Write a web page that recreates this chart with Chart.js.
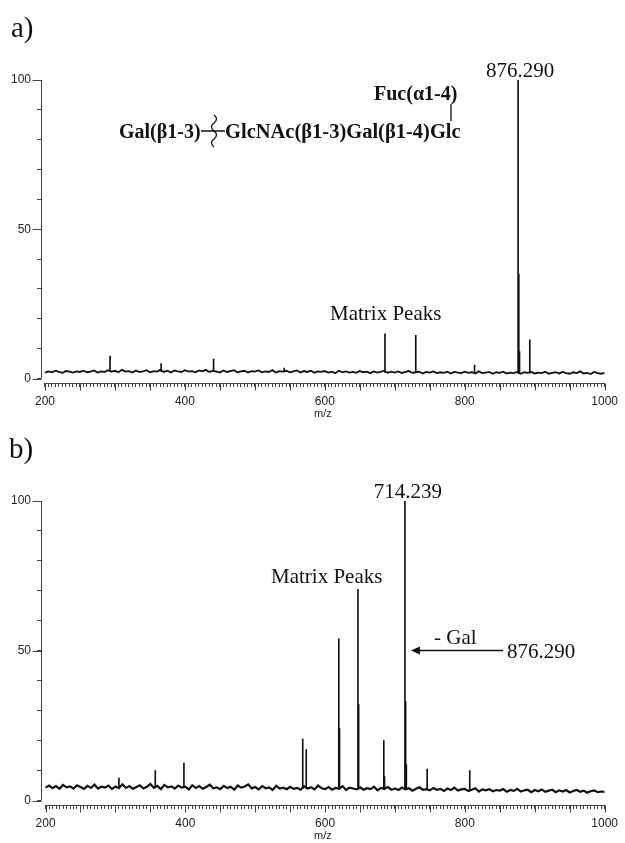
<!DOCTYPE html>
<html>
<head>
<meta charset="utf-8">
<script src="https://cdn.jsdelivr.net/npm/chart.js@4.4.1/dist/chart.umd.min.js"></script>
<style>
  body { margin: 0; background: #fff; }
  canvas { display: block; }
</style>
</head>
<body>
<canvas id="specA" width="625" height="421"></canvas>
<canvas id="specB" width="625" height="422"></canvas>
<script>
// x grid of the noise trace, one reading every 5 m/z
const noiseMz = [];
for (let m = 200; m <= 1000; m += 5) noiseMz.push(m);

// baseline noise, % relative intensity
const noiseA = [
  2.0, 2.4, 2.1, 2.6, 2.2, 1.9, 2.5, 2.3, 2.0, 2.4,
  2.2, 2.6, 2.1, 2.3, 2.7, 2.0, 2.4, 2.2, 2.8, 2.3,
  2.6, 2.1, 2.9, 2.3, 2.5, 2.0, 2.7, 2.2, 2.4, 2.8,
  2.1, 2.5, 2.3, 2.9, 2.2, 2.6, 2.0, 2.7, 2.4, 2.2,
  2.8, 2.3, 2.5, 2.1, 2.7, 2.4, 2.9, 2.2, 2.6, 2.3,
  2.0, 2.7, 2.2, 2.5, 2.8, 2.1, 2.4, 2.6, 2.0, 2.5,
  2.3, 2.7, 2.1, 2.4, 2.2, 2.8, 2.0, 2.5, 2.3, 2.6,
  2.1, 2.4, 2.7, 2.0, 2.5, 2.2, 2.6, 1.9, 2.4, 2.2,
  2.5, 2.0, 2.3, 1.8, 2.6, 2.1, 2.4, 2.0, 2.2, 1.9,
  2.5, 2.1, 2.3, 1.8, 2.4, 2.0, 2.2, 2.6, 1.9, 2.3,
  2.0, 2.4, 1.8, 2.2, 2.5, 1.9, 2.1, 2.3, 1.7, 2.2,
  2.0, 2.4, 1.8, 2.1, 1.9, 2.3, 1.7, 2.2, 2.0, 1.8,
  2.3, 1.9, 2.1, 1.7, 2.4, 1.8, 2.0, 2.2, 1.6, 2.1,
  1.9, 2.3, 1.7, 2.0, 1.8, 2.2, 1.6, 2.1, 1.9, 2.2,
  1.7, 2.0, 1.8, 2.3, 1.6, 1.9, 2.1, 1.7, 2.2, 1.8,
  1.6, 2.1, 1.8, 2.4, 1.7, 1.9, 1.5, 2.2, 1.8, 1.6,
  1.9
];
const noiseB = [
  4.3, 5.0, 4.1, 4.8, 3.9, 5.2, 4.4, 4.7, 4.0, 5.1,
  4.5, 3.9, 4.9, 4.2, 5.3, 4.0, 4.6, 4.3, 5.0, 3.8,
  4.7, 4.1, 5.4, 4.2, 4.8, 3.9, 4.5, 5.1, 4.0, 4.6,
  5.5, 4.2, 4.9, 3.8, 5.2, 4.4, 4.7, 4.0, 5.0, 4.3,
  4.6, 3.7, 5.1, 4.2, 4.8, 3.9, 4.5, 5.3, 4.1, 4.4,
  3.8, 4.9, 4.2, 4.6, 3.6, 5.0, 4.3, 4.7, 5.4, 4.0,
  4.5, 3.7, 4.8, 4.1, 4.4, 3.5, 4.9, 4.0, 4.3, 3.8,
  4.6, 3.9, 4.2, 3.6, 4.7, 4.0, 4.4, 3.7, 5.0, 4.1,
  3.8, 4.5, 3.6, 4.2, 3.9, 4.8, 3.5, 4.3, 4.0, 3.7,
  4.4, 3.6, 4.1, 3.8, 4.6, 3.4, 4.2, 3.9, 4.5, 3.6,
  4.0, 3.5, 4.3, 3.7, 4.1, 3.3, 3.9, 4.4, 3.6, 3.8,
  3.4, 4.2, 3.6, 3.9, 3.2, 4.0, 3.5, 4.3, 3.3, 3.7,
  3.9, 3.2, 3.6, 4.1, 3.0, 3.7, 3.4, 3.8, 3.1, 3.5,
  3.3, 3.8, 2.9, 3.5, 3.2, 3.9, 3.0, 3.4, 3.6, 2.8,
  3.5, 3.1, 3.7, 2.9, 3.3, 3.6, 2.8, 3.4, 3.0, 3.5,
  2.7, 3.2, 3.5, 2.9, 3.3, 2.6, 3.1, 3.4, 2.8, 3.0,
  2.9
];

// peaks (m/z, foot on the baseline, top) in % relative intensity
const peakMzA = [293, 366, 441, 542, 686, 730, 814, 876.29, 877.3, 878.3, 893];
const peakBaseA = [2.3, 2.3, 2.4, 2.2, 2.0, 2.0, 1.9, 1.8, 1.8, 1.8, 1.8];
const peakHtA = [7.5, 5, 6.5, 3.5, 15, 14.5, 4.5, 100, 35, 9, 13];
const peakMzB = [305, 357, 398, 568, 573, 619.6, 620.6, 647, 648, 684, 685, 714.24, 715.24, 716.24, 746, 807];
const peakBaseB = [4.5, 4.6, 4.4, 4.0, 4.0, 3.9, 3.9, 3.8, 3.8, 3.7, 3.7, 3.6, 3.6, 3.6, 3.5, 3.3];
const peakHtB = [7.5, 10, 12.5, 20.5, 17, 54, 24, 70.5, 32, 20, 8, 100, 33, 12, 10.5, 10];

// axis ticks
const xMinorTicks = noiseMz;
const xMajorTicks = [200, 250, 300, 350, 400, 450, 500, 550, 600, 650, 700, 750, 800, 850, 900, 950, 1000];
const xLabels = [200, 400, 600, 800, 1000];
const yMinorTicks = [0, 10, 20, 30, 40, 50, 60, 70, 80, 90, 100];
const yLabels = [0, 50, 100];

Chart.defaults.font.family = '"Liberation Sans", Arial, sans-serif';
Chart.defaults.color = '#222';

const SERIF = '"Liberation Serif", "Times New Roman", serif';
const INK = '#111';

function spectrum(canvasId, xMin, noise, noiseWidth, peakMz, peakBase, peakHt, drawNotes) {
  const el = document.getElementById(canvasId);
  return new Chart(el, {
    type: 'line',
    data: {
      datasets: [
        {
          type: 'line',
          data: noiseMz.map((m, i) => ({ x: m, y: noise[i] })),
          borderColor: INK,
          borderWidth: noiseWidth,
          pointRadius: 0,
          tension: 0
        },
        {
          type: 'bar',
          data: peakMz.map((m, i) => ({ x: m, y: [peakBase[i], peakHt[i]] })),
          backgroundColor: INK,
          barThickness: 1,
          grouped: false
        }
      ]
    },
    options: {
      responsive: false,
      animation: false,
      layout: { padding: { top: 80, right: 18, left: 0, bottom: 0 } },
      plugins: { legend: { display: false }, tooltip: { enabled: false } },
      scales: {
        x: {
          type: 'linear',
          min: xMin,
          max: 1000,
          offset: false,
          afterBuildTicks: (s) => { s.ticks = xMinorTicks.map(v => ({ value: v })); },
          afterFit: (s) => { s.height = 38; },
          border: { display: false },
          grid: { drawOnChartArea: false, tickLength: 4, color: '#444', offset: false },
          ticks: {
            autoSkip: false,
            maxRotation: 0,
            padding: 7,
            font: { size: 12 },
            callback: (v) => xLabels.includes(v) ? String(v) : ''
          },
          title: { display: true, text: 'm/z', padding: { top: 0, bottom: 0 }, font: { size: 11 } }
        },
        y: {
          min: -1.5,
          max: 100,
          afterBuildTicks: (s) => { s.ticks = yMinorTicks.map(v => ({ value: v })); },
          afterFit: (s) => { s.width = 41; },
          border: { display: false },
          grid: { drawOnChartArea: false, tickLength: 4, color: '#444' },
          ticks: {
            padding: 6,
            font: { size: 12 },
            callback: (v) => yLabels.includes(v) ? String(v) : ''
          }
        }
      }
    },
    plugins: [{
      id: 'axesAndNotes',
      afterDraw(chart) {
        const { ctx, chartArea, scales: { x, y } } = chart;
        ctx.save();
        ctx.strokeStyle = '#444';
        ctx.lineWidth = 1;
        const ax = Math.round(chartArea.left) + 0.5;
        const by = Math.round(chartArea.bottom) + 0.5;
        ctx.beginPath();
        // y axis only spans 0..100, x axis only 200..1000
        ctx.moveTo(ax, y.getPixelForValue(100));
        ctx.lineTo(ax, y.getPixelForValue(0));
        ctx.moveTo(x.getPixelForValue(200), by);
        ctx.lineTo(x.getPixelForValue(1000), by);
        xMajorTicks.forEach(v => {
          const px = Math.round(x.getPixelForValue(v)) + 0.5;
          ctx.moveTo(px, by);
          ctx.lineTo(px, by + 7);
        });
        yLabels.forEach(v => {
          const py = Math.round(y.getPixelForValue(v)) + 0.5;
          ctx.moveTo(ax - 9, py);
          ctx.lineTo(ax, py);
        });
        ctx.stroke();
        ctx.restore();
        drawNotes(chart);
      }
    }]
  });
}

function notesA(chart) {
  const { ctx, scales: { x, y } } = chart;
  ctx.save();
  ctx.fillStyle = INK;
  ctx.strokeStyle = INK;
  ctx.font = '29px ' + SERIF;
  ctx.fillText('a)', 11, 37);
  ctx.font = '21px ' + SERIF;
  ctx.textAlign = 'center';
  ctx.fillText('876.290', x.getPixelForValue(876.29) + 2, y.getPixelForValue(100) - 3);
  ctx.textAlign = 'left';
  ctx.fillText('Matrix Peaks', 330, 320);
  ctx.font = 'bold 20px ' + SERIF;
  ctx.fillText('Fuc(\u03b11-4)', 374, 100);
  ctx.fillText('Gal(\u03b21-3)', 119, 138);
  ctx.font = 'bold 20.5px ' + SERIF;
  ctx.fillText('GlcNAc(\u03b21-3)Gal(\u03b21-4)Glc', 225, 138);
  ctx.lineWidth = 1.3;
  ctx.beginPath();
  ctx.moveTo(451, 104);
  ctx.lineTo(451, 121);
  ctx.moveTo(201, 131);
  ctx.lineTo(225, 131);
  ctx.stroke();
  // wavy "any linkage" mark
  ctx.beginPath();
  let wy = 115;
  ctx.moveTo(214, wy);
  for (let k = 0; k < 4; k++) {
    ctx.quadraticCurveTo(k % 2 ? 209 : 219, wy + 4, 214, wy + 8);
    wy += 8;
  }
  ctx.stroke();
  ctx.restore();
}

function notesB(chart) {
  const { ctx, scales: { x, y } } = chart;
  ctx.save();
  ctx.fillStyle = INK;
  ctx.strokeStyle = INK;
  ctx.font = '29px ' + SERIF;
  ctx.fillText('b)', 9, 37);
  ctx.font = '21px ' + SERIF;
  ctx.textAlign = 'center';
  ctx.fillText('714.239', x.getPixelForValue(714.24) + 3, y.getPixelForValue(100) - 3);
  ctx.textAlign = 'left';
  ctx.fillText('Matrix Peaks', 271, 162);
  ctx.fillText('- Gal', 434, 223);
  const ay = Math.round(y.getPixelForValue(50)) - 0.5;
  ctx.fillText('876.290', 507, ay + 7);
  const tip = x.getPixelForValue(714.24) + 6;
  ctx.lineWidth = 1.3;
  ctx.beginPath();
  ctx.moveTo(503, ay);
  ctx.lineTo(tip + 6, ay);
  ctx.stroke();
  ctx.beginPath();
  ctx.moveTo(tip, ay);
  ctx.lineTo(tip + 9, ay - 4);
  ctx.lineTo(tip + 9, ay + 4);
  ctx.closePath();
  ctx.fill();
  ctx.restore();
}

spectrum('specA', 194.3, noiseA, 1.8, peakMzA, peakBaseA, peakHtA, notesA);
spectrum('specB', 193.5, noiseB, 2.2, peakMzB, peakBaseB, peakHtB, notesB);
</script>
</body>
</html>
